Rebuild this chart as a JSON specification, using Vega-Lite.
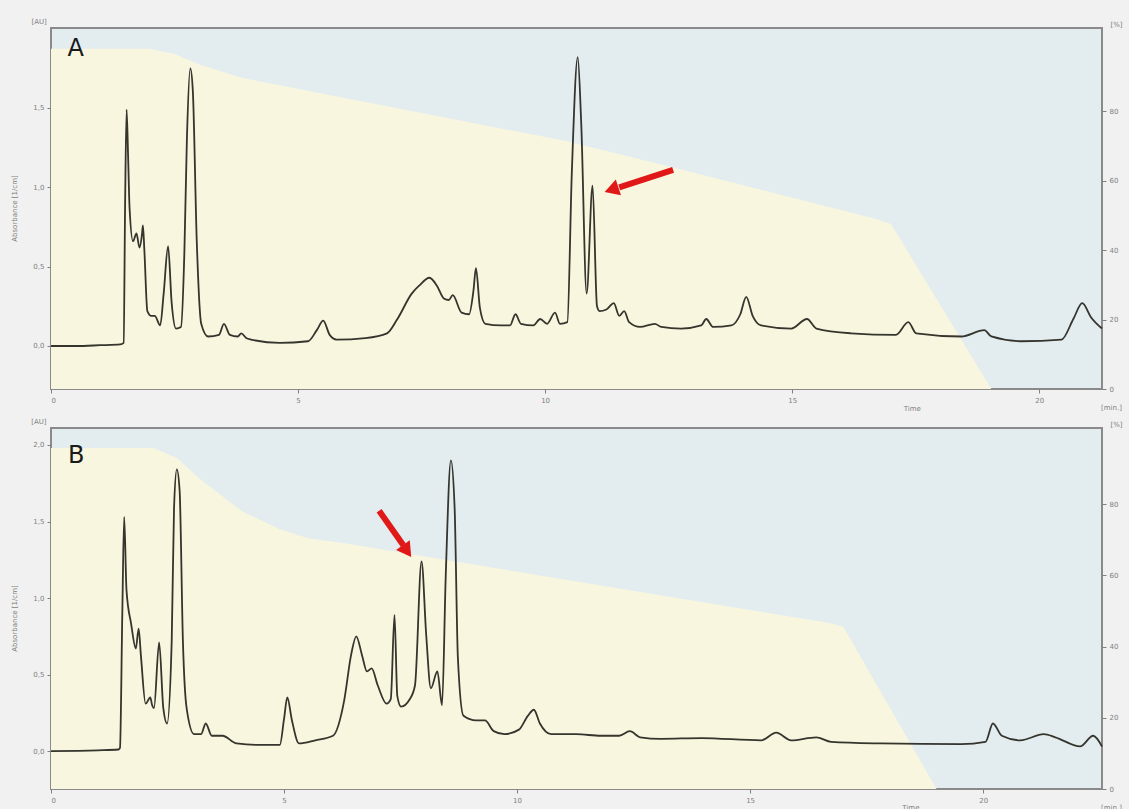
{
  "$schema": "https://vega.github.io/schema/vega-lite/v6.json",
  "autosize": {"type": "pad"},
  "padding": {"left": 9, "top": 17, "right": 5, "bottom": 5},
  "background": "#f1f1f1",
  "spacing": 39,
  "bounds": "flush",
  "config": {
    "view": {"fill": "#e3edef", "stroke": "#8a8a8a", "strokeWidth": 2},
    "axis": {"labelFont": "DejaVu Sans", "labelFontSize": 7, "labelColor": "#808080", "tickColor": "#808080", "tickSize": 4, "domain": false, "grid": false, "titleFont": "DejaVu Sans", "titleFontSize": 7, "titleColor": "#808080", "titleFontWeight": "normal", "labelPadding": 3}
  },
  "datasets": {
    "traceA": [
      {"t": 0, "au": 0.0}, {"t": 0.5, "au": 0.0}, {"t": 1.0, "au": 0.005}, {"t": 1.4, "au": 0.01}, {"t": 1.47, "au": 0.02}, {"t": 1.5, "au": 0.9}, {"t": 1.53, "au": 1.49}, {"t": 1.56, "au": 1.2}, {"t": 1.59, "au": 0.87}, {"t": 1.66, "au": 0.66}, {"t": 1.73, "au": 0.71}, {"t": 1.79, "au": 0.62}, {"t": 1.84, "au": 0.7}, {"t": 1.86, "au": 0.76}, {"t": 1.89, "au": 0.6}, {"t": 1.95, "au": 0.22}, {"t": 2.03, "au": 0.19}, {"t": 2.1, "au": 0.19}, {"t": 2.21, "au": 0.13}, {"t": 2.28, "au": 0.33}, {"t": 2.37, "au": 0.63}, {"t": 2.44, "au": 0.28}, {"t": 2.53, "au": 0.11}, {"t": 2.63, "au": 0.12}, {"t": 2.7, "au": 0.6}, {"t": 2.75, "au": 1.3}, {"t": 2.82, "au": 1.75}, {"t": 2.87, "au": 1.61}, {"t": 2.95, "au": 0.66}, {"t": 3.04, "au": 0.14}, {"t": 3.18, "au": 0.06}, {"t": 3.4, "au": 0.07}, {"t": 3.5, "au": 0.14}, {"t": 3.62, "au": 0.07}, {"t": 3.78, "au": 0.06}, {"t": 3.85, "au": 0.08}, {"t": 3.95, "au": 0.05}, {"t": 4.05, "au": 0.04}, {"t": 4.63, "au": 0.02}, {"t": 5.2, "au": 0.03}, {"t": 5.38, "au": 0.1}, {"t": 5.51, "au": 0.16}, {"t": 5.64, "au": 0.07}, {"t": 5.78, "au": 0.04}, {"t": 6.36, "au": 0.05}, {"t": 6.8, "au": 0.08}, {"t": 7.01, "au": 0.17}, {"t": 7.3, "au": 0.33}, {"t": 7.45, "au": 0.38}, {"t": 7.66, "au": 0.43}, {"t": 7.81, "au": 0.38}, {"t": 7.95, "au": 0.3}, {"t": 8.05, "au": 0.29}, {"t": 8.13, "au": 0.32}, {"t": 8.31, "au": 0.21}, {"t": 8.46, "au": 0.2}, {"t": 8.55, "au": 0.35}, {"t": 8.6, "au": 0.49}, {"t": 8.68, "au": 0.24}, {"t": 8.79, "au": 0.14}, {"t": 9.11, "au": 0.13}, {"t": 9.29, "au": 0.13}, {"t": 9.4, "au": 0.2}, {"t": 9.51, "au": 0.14}, {"t": 9.76, "au": 0.13}, {"t": 9.9, "au": 0.17}, {"t": 10.04, "au": 0.14}, {"t": 10.2, "au": 0.21}, {"t": 10.3, "au": 0.14}, {"t": 10.45, "au": 0.15}, {"t": 10.54, "au": 1.09}, {"t": 10.66, "au": 1.82}, {"t": 10.73, "au": 1.41}, {"t": 10.84, "au": 0.33}, {"t": 10.96, "au": 1.01}, {"t": 11.05, "au": 0.25}, {"t": 11.1, "au": 0.22}, {"t": 11.24, "au": 0.23}, {"t": 11.39, "au": 0.27}, {"t": 11.5, "au": 0.19}, {"t": 11.6, "au": 0.22}, {"t": 11.7, "au": 0.15}, {"t": 11.92, "au": 0.12}, {"t": 12.22, "au": 0.14}, {"t": 12.35, "au": 0.12}, {"t": 12.75, "au": 0.11}, {"t": 13.16, "au": 0.13}, {"t": 13.26, "au": 0.17}, {"t": 13.4, "au": 0.12}, {"t": 13.77, "au": 0.13}, {"t": 13.95, "au": 0.2}, {"t": 14.07, "au": 0.31}, {"t": 14.2, "au": 0.19}, {"t": 14.37, "au": 0.13}, {"t": 14.98, "au": 0.11}, {"t": 15.3, "au": 0.17}, {"t": 15.49, "au": 0.11}, {"t": 16.19, "au": 0.08}, {"t": 17.1, "au": 0.07}, {"t": 17.35, "au": 0.15}, {"t": 17.51, "au": 0.08}, {"t": 18.42, "au": 0.06}, {"t": 18.89, "au": 0.1}, {"t": 19.03, "au": 0.06}, {"t": 19.64, "au": 0.03}, {"t": 20.45, "au": 0.04}, {"t": 20.69, "au": 0.17}, {"t": 20.87, "au": 0.27}, {"t": 21.05, "au": 0.18}, {"t": 21.27, "au": 0.11}
    ],
    "traceB": [
      {"t": 0, "au": 0.0}, {"t": 1.0, "au": 0.005}, {"t": 1.45, "au": 0.01}, {"t": 1.48, "au": 0.02}, {"t": 1.53, "au": 0.9}, {"t": 1.57, "au": 1.53}, {"t": 1.62, "au": 1.05}, {"t": 1.72, "au": 0.83}, {"t": 1.82, "au": 0.67}, {"t": 1.88, "au": 0.8}, {"t": 1.93, "au": 0.62}, {"t": 2.03, "au": 0.31}, {"t": 2.13, "au": 0.35}, {"t": 2.17, "au": 0.3}, {"t": 2.21, "au": 0.28}, {"t": 2.32, "au": 0.71}, {"t": 2.41, "au": 0.28}, {"t": 2.49, "au": 0.18}, {"t": 2.59, "au": 0.72}, {"t": 2.64, "au": 1.59}, {"t": 2.7, "au": 1.84}, {"t": 2.76, "au": 1.7}, {"t": 2.83, "au": 0.72}, {"t": 2.91, "au": 0.28}, {"t": 3.07, "au": 0.11}, {"t": 3.22, "au": 0.11}, {"t": 3.32, "au": 0.18}, {"t": 3.45, "au": 0.1}, {"t": 3.68, "au": 0.1}, {"t": 3.98, "au": 0.05}, {"t": 4.52, "au": 0.04}, {"t": 4.91, "au": 0.04}, {"t": 5.0, "au": 0.21}, {"t": 5.07, "au": 0.35}, {"t": 5.17, "au": 0.2}, {"t": 5.32, "au": 0.05}, {"t": 5.67, "au": 0.07}, {"t": 6.05, "au": 0.1}, {"t": 6.29, "au": 0.33}, {"t": 6.44, "au": 0.63}, {"t": 6.55, "au": 0.75}, {"t": 6.67, "au": 0.63}, {"t": 6.78, "au": 0.52}, {"t": 6.88, "au": 0.54}, {"t": 7.01, "au": 0.43}, {"t": 7.2, "au": 0.31}, {"t": 7.29, "au": 0.34}, {"t": 7.37, "au": 0.89}, {"t": 7.43, "au": 0.36}, {"t": 7.51, "au": 0.29}, {"t": 7.7, "au": 0.34}, {"t": 7.81, "au": 0.43}, {"t": 7.95, "au": 1.24}, {"t": 8.05, "au": 0.76}, {"t": 8.15, "au": 0.41}, {"t": 8.29, "au": 0.52}, {"t": 8.39, "au": 0.3}, {"t": 8.47, "au": 1.15}, {"t": 8.58, "au": 1.9}, {"t": 8.66, "au": 1.59}, {"t": 8.73, "au": 0.61}, {"t": 8.85, "au": 0.23}, {"t": 9.12, "au": 0.2}, {"t": 9.31, "au": 0.2}, {"t": 9.5, "au": 0.13}, {"t": 9.73, "au": 0.11}, {"t": 10.04, "au": 0.14}, {"t": 10.23, "au": 0.23}, {"t": 10.36, "au": 0.27}, {"t": 10.49, "au": 0.18}, {"t": 10.73, "au": 0.11}, {"t": 11.27, "au": 0.11}, {"t": 11.8, "au": 0.1}, {"t": 12.19, "au": 0.1}, {"t": 12.42, "au": 0.13}, {"t": 12.64, "au": 0.09}, {"t": 13.09, "au": 0.08}, {"t": 13.95, "au": 0.085}, {"t": 15.24, "au": 0.07}, {"t": 15.56, "au": 0.12}, {"t": 15.88, "au": 0.07}, {"t": 16.42, "au": 0.09}, {"t": 16.74, "au": 0.06}, {"t": 17.81, "au": 0.05}, {"t": 19.53, "au": 0.045}, {"t": 20.05, "au": 0.06}, {"t": 20.21, "au": 0.18}, {"t": 20.4, "au": 0.1}, {"t": 20.8, "au": 0.07}, {"t": 21.3, "au": 0.11}, {"t": 21.55, "au": 0.09}, {"t": 22.08, "au": 0.03}, {"t": 22.36, "au": 0.1}, {"t": 22.55, "au": 0.03}
    ],
    "gradA": [
      {"t": 0, "pct": 98}, {"t": 2.0, "pct": 98}, {"t": 2.5, "pct": 96.5}, {"t": 3.0, "pct": 93.5}, {"t": 3.9, "pct": 89.5}, {"t": 10.4, "pct": 71.5}, {"t": 12.35, "pct": 64.7}, {"t": 16.7, "pct": 49}, {"t": 17.0, "pct": 47.5}, {"t": 19.03, "pct": 0}, {"t": 21.27, "pct": 0}
    ],
    "gradB": [
      {"t": 0, "pct": 95.8}, {"t": 2.2, "pct": 95.8}, {"t": 2.7, "pct": 93}, {"t": 3.2, "pct": 87}, {"t": 4.1, "pct": 78}, {"t": 4.9, "pct": 73}, {"t": 5.5, "pct": 70.5}, {"t": 6.4, "pct": 68.8}, {"t": 16.7, "pct": 46.6}, {"t": 17.0, "pct": 45.6}, {"t": 19.0, "pct": 0}, {"t": 22.55, "pct": 0}
    ],
    "arrowA": [{"t": 12.59, "au": 1.11, "t2": 11.5, "au2": 1.0}],
    "headA": [{"t": 11.39, "au": 0.99}],
    "arrowB": [{"t": 7.04, "au": 1.57, "t2": 7.56, "au2": 1.345}],
    "headB": [{"t": 7.61, "au": 1.32}],
    "letterA": [{"t": 0.5, "au": 1.87, "label": "A"}],
    "letterB": [{"t": 0.54, "au": 1.93, "label": "B"}],
    "notesA": [{"t": -0.24, "au": 2.04, "label": "[AU]"}, {"t": 17.43, "au": -0.4, "label": "Time"}],
    "notesB": [{"t": -0.26, "au": 2.15, "label": "[AU]"}, {"t": 18.45, "au": -0.37, "label": "Time"}]
  },
  "vconcat": [
    {
      "width": 1051,
      "height": 361,
      "layer": [
        {
          "data": {"name": "gradA"},
          "mark": {"type": "area", "color": "#f8f6df", "opacity": 1},
          "encoding": {
            "x": {"field": "t", "type": "quantitative", "scale": {"domain": [0, 21.27], "nice": false, "zero": false}, "axis": {"values": [0, 5, 10, 15, 20], "title": "[min.]", "titleX": 1060, "titleY": 18, "titleAlign": "center", "titleBaseline": "middle"}},
            "y": {"field": "pct", "type": "quantitative", "scale": {"domain": [0, 104], "nice": false}, "axis": {"orient": "right", "values": [0, 20, 40, 60, 80], "title": "[%]", "titleAngle": 0, "titleX": 14, "titleY": -4, "titleAlign": "center", "titleBaseline": "middle"}}
          }
        },
        {
          "encoding": {
            "x": {"field": "t", "type": "quantitative", "scale": {"domain": [0, 21.27], "nice": false, "zero": false}, "axis": {"values": [0, 5, 10, 15, 20], "title": "[min.]", "titleX": 1060, "titleY": 18, "titleAlign": "center", "titleBaseline": "middle"}},
            "y": {"field": "au", "type": "quantitative", "scale": {"domain": [-0.271, 2.004], "nice": false, "zero": false}, "axis": {"orient": "left", "values": [0, 0.5, 1, 1.5], "labelExpr": "replace(format(datum.value, '.1f'), '.', ',')", "title": "Absorbance [1/cm]", "titleX": -37, "titleY": 180, "titleAngle": -90, "titleAlign": "center", "titleBaseline": "middle"}}
          },
          "layer": [
            {"data": {"name": "traceA"}, "mark": {"type": "line", "color": "#35342d", "strokeWidth": 1.8, "interpolate": "monotone"}},
            {"data": {"name": "arrowA"}, "mark": {"type": "rule", "color": "#e01818", "strokeWidth": 6}, "encoding": {"x2": {"field": "t2"}, "y2": {"field": "au2"}}},
            {"data": {"name": "headA"}, "mark": {"type": "point", "shape": "triangle", "filled": true, "color": "#e01818", "size": 280, "angle": 252, "opacity": 1}},
            {"data": {"name": "letterA"}, "mark": {"type": "text", "font": "DejaVu Sans", "fontSize": 24, "color": "#1a1a1a", "align": "center", "baseline": "middle"}, "encoding": {"text": {"field": "label"}}},
            {"data": {"name": "notesA"}, "mark": {"type": "text", "font": "DejaVu Sans", "fontSize": 7, "color": "#808080", "align": "center", "baseline": "middle"}, "encoding": {"text": {"field": "label"}}}
          ]
        }
      ],
      "resolve": {"scale": {"y": "independent"}}
    },
    {
      "width": 1051,
      "height": 361,
      "layer": [
        {
          "data": {"name": "gradB"},
          "mark": {"type": "area", "color": "#f8f6df", "opacity": 1},
          "encoding": {
            "x": {"field": "t", "type": "quantitative", "scale": {"domain": [0, 22.55], "nice": false, "zero": false}, "axis": {"values": [0, 5, 10, 15, 20], "title": "[min.]", "titleX": 1060, "titleY": 18, "titleAlign": "center", "titleBaseline": "middle"}},
            "y": {"field": "pct", "type": "quantitative", "scale": {"domain": [0, 101.4], "nice": false}, "axis": {"orient": "right", "values": [0, 20, 40, 60, 80], "title": "[%]", "titleAngle": 0, "titleX": 14, "titleY": -4, "titleAlign": "center", "titleBaseline": "middle"}}
          }
        },
        {
          "encoding": {
            "x": {"field": "t", "type": "quantitative", "scale": {"domain": [0, 22.55], "nice": false, "zero": false}, "axis": {"values": [0, 5, 10, 15, 20], "title": "[min.]", "titleX": 1060, "titleY": 18, "titleAlign": "center", "titleBaseline": "middle"}},
            "y": {"field": "au", "type": "quantitative", "scale": {"domain": [-0.248, 2.111], "nice": false, "zero": false}, "axis": {"orient": "left", "values": [0, 0.5, 1, 1.5, 2], "labelExpr": "replace(format(datum.value, '.1f'), '.', ',')", "title": "Absorbance [1/cm]", "titleX": -37, "titleY": 190, "titleAngle": -90, "titleAlign": "center", "titleBaseline": "middle"}}
          },
          "layer": [
            {"data": {"name": "traceB"}, "mark": {"type": "line", "color": "#35342d", "strokeWidth": 1.8, "interpolate": "monotone"}},
            {"data": {"name": "arrowB"}, "mark": {"type": "rule", "color": "#e01818", "strokeWidth": 6}, "encoding": {"x2": {"field": "t2"}, "y2": {"field": "au2"}}},
            {"data": {"name": "headB"}, "mark": {"type": "point", "shape": "triangle", "filled": true, "color": "#e01818", "size": 280, "angle": 145, "opacity": 1}},
            {"data": {"name": "letterB"}, "mark": {"type": "text", "font": "DejaVu Sans", "fontSize": 24, "color": "#1a1a1a", "align": "center", "baseline": "middle"}, "encoding": {"text": {"field": "label"}}},
            {"data": {"name": "notesB"}, "mark": {"type": "text", "font": "DejaVu Sans", "fontSize": 7, "color": "#808080", "align": "center", "baseline": "middle"}, "encoding": {"text": {"field": "label"}}}
          ]
        }
      ],
      "resolve": {"scale": {"y": "independent"}}
    }
  ]
}
